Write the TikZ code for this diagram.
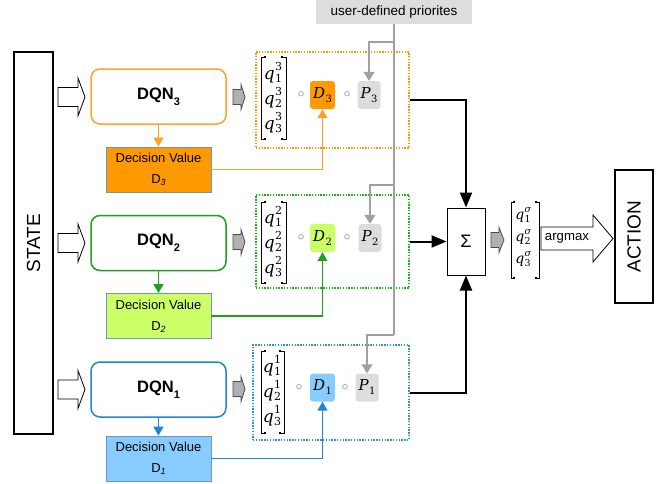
\RequirePackage{fix-cm}
\documentclass[tikz,border=0pt]{standalone}
\usepackage{fontspec}
\setmainfont{Liberation Sans}
\newfontfamily\mvar{DejaVu Serif}
\usetikzlibrary{arrows.meta,calc}
\definecolor{orng}{HTML}{FF9900}
\definecolor{orngline}{HTML}{FFA22A}
\definecolor{grn}{HTML}{1F9F1F}
\definecolor{lgrn}{HTML}{CCFF66}
\definecolor{blu}{HTML}{1F86D6}
\definecolor{lblu}{HTML}{88CCFF}
\definecolor{dvborder}{HTML}{6F93C4}
\definecolor{lgray}{HTML}{DDDDDD}
\definecolor{gline}{HTML}{A0A0A0}
\definecolor{garrow}{HTML}{B0B0B0}
\definecolor{dotgrn}{HTML}{11BB11}
\definecolor{dotblu}{HTML}{2A90E0}
\newcommand\blockarr[7]{\draw[#1] (#2,#5-#6) -- (#3,#5-#6) -- (#3,#5-#7) -- (#4,#5) -- (#3,#5+#7) -- (#3,#5+#6) -- (#2,#5+#6) -- cycle;}
% bracket pair: #1 left x, #2 right x, #3 top, #4 bottom, #5 tick
\newcommand\brackets[5]{%
  \draw[brk] (#1+#5,#3) -- (#1,#3) -- (#1,#4) -- (#1+#5,#4);
  \draw[brk] (#2-#5,#3) -- (#2,#3) -- (#2,#4) -- (#2-#5,#4);
  \fill (#1+#5-1,#3-1) rectangle (#1+#5+1,#3+1);
  \fill (#1+#5-1,#4-1) rectangle (#1+#5+1,#4+1);
  \fill (#2-#5-1,#3-1) rectangle (#2-#5+1,#3+1);
  \fill (#2-#5-1,#4-1) rectangle (#2-#5+1,#4+1);}
% q entries: #1 sub, #2 sup
\newcommand\qe[2]{{\mvar\itshape q}\kern0.3pt\rlap{\raisebox{8.5pt}{\fontsize{11}{11}\selectfont\mvar #2}}\raisebox{-3.5pt}{\fontsize{11}{11}\selectfont\mvar #1}}
\newcommand\qsig[1]{{\mvar\itshape q}\kern0.3pt\rlap{\raisebox{7pt}{\fontsize{9.5}{9.5}\selectfont\mvar\itshape σ}}\raisebox{-3pt}{\fontsize{9.5}{9.5}\selectfont\mvar #1}}
\newcommand\vsub[2]{{\mvar\itshape #1}\kern0.5pt\raisebox{-4pt}{\fontsize{10}{10}\selectfont\mvar #2}}
\begin{document}
\begin{tikzpicture}[x=1pt,y=-1pt,
  dqn/.style={draw, rounded corners=9pt, line width=1.5pt, minimum width=135pt, minimum height=55pt, fill=white, inner sep=0pt, font=\fontsize{16.5}{18}\selectfont\bfseries},
  dv/.style={draw=dvborder, line width=0.8pt, minimum width=105pt, minimum height=45pt, align=center, inner sep=0pt, font=\fontsize{13}{21}\selectfont},
  dnode/.style={rounded corners=3pt, minimum width=25pt, minimum height=28pt, inner sep=0pt, font=\fontsize{15}{15}\selectfont},
  pnode/.style={fill=lgray, rounded corners=3pt, minimum width=23pt, minimum height=28pt, inner sep=0pt, font=\fontsize{15}{15}\selectfont},
  dotbox/.style={line width=1.4pt, dash pattern=on 1.4pt off 1.4pt, inner sep=0pt},
  gl/.style={draw=gline, line width=1.3pt},
  gtip/.style={-{Triangle[length=9pt,width=11pt]}},
  ctip/.style={-{Triangle[length=9pt,width=10pt]}},
  blk/.style={line width=2pt, -{Triangle[length=15pt,width=12pt]}},
  circ/.style={inner sep=0pt, font=\fontsize{13}{13}\selectfont, text=black!60},
  qent/.style={inner sep=0pt, anchor=base, font=\fontsize{17}{17}\selectfont},
  sent/.style={inner sep=0pt, anchor=base, font=\fontsize{14}{14}\selectfont},
  brk/.style={line width=0.9pt},
  tall/.style={draw, line width=1.2pt, fill=white, inner sep=0pt},
  whitearr/.style={draw, line width=0.8pt, fill=white},
  grayarr/.style={draw=black!70, line width=0.8pt, fill=garrow}
]
\useasboundingbox (0,0) rectangle (665,483);

% STATE / ACTION
\node[tall, minimum width=39pt, minimum height=382pt] (state) at (33.5,243) {};
\node[rotate=90, font=\fontsize{19}{19}\selectfont] (statet) at (state.center) {STATE};
\node[tall, minimum width=38pt, minimum height=133pt] (action) at (634,236.5) {};
\node[rotate=90, font=\fontsize{19}{19}\selectfont] (actiont) at (action.center) {ACTION};

% white input arrows
\blockarr{whitearr}{58}{78}{85}{97}{9.5}{19}
\blockarr{whitearr}{58}{78}{85}{243}{9.5}{19}
\blockarr{whitearr}{58}{78}{85}{389.5}{9.5}{19}

% DQN boxes
\node[dqn, draw=orngline] (dqn3) at (158.5,96.5) {DQN\raisebox{-6pt}{\fontsize{11}{11}\selectfont\bfseries 3}};
\node[dqn, draw=grn] (dqn2) at (158.5,243) {DQN\raisebox{-6pt}{\fontsize{11}{11}\selectfont\bfseries 2}};
\node[dqn, draw=blu] (dqn1) at (158.5,389.5) {DQN\raisebox{-6pt}{\fontsize{11}{11}\selectfont\bfseries 1}};

% decision value boxes
\node[dv, fill=orng] (dv3) at (158.5,169.5) {Decision Value\\D\raisebox{-2pt}{\fontsize{9}{9}\selectfont\itshape 3}};
\node[dv, fill=lgrn] (dv2) at (158.5,316) {Decision Value\\D\raisebox{-2pt}{\fontsize{9}{9}\selectfont\itshape 2}};
\node[dv, fill=lblu] (dv1) at (158.5,458.5) {Decision Value\\D\raisebox{-2pt}{\fontsize{9}{9}\selectfont\itshape 1}};

\draw[orngline, line width=1.5pt, ctip] (dqn3.south) -- (dv3.north);
\draw[grn, line width=1.5pt, ctip] (dqn2.south) -- (dv2.north);
\draw[blu, line width=1.5pt, ctip] (dqn1.south) -- (dv1.north);

% gray arrows
\blockarr{grayarr}{233}{241}{245}{97}{7.5}{12.5}
\blockarr{grayarr}{233}{241}{245}{242}{7.5}{12.5}
\blockarr{grayarr}{233}{241}{245}{389}{7.5}{12.5}
\blockarr{grayarr}{491}{499}{504}{240}{7.5}{12.5}

% dotted boxes
\node[dotbox, draw=orng, minimum width=153pt, minimum height=96pt] (box3) at (332.5,100) {};
\node[dotbox, draw=dotgrn, minimum width=153pt, minimum height=93pt] (box2) at (332.5,241.5) {};
\node[dotbox, draw=dotblu, minimum width=156pt, minimum height=95pt] (box1) at (331,392.5) {};

% matrices
\brackets{261}{286}{57}{139}{4}
\node[qent] (q31) at (273,79) {\qe{1}{3}};
\node[qent] (q32) at (273,104) {\qe{2}{3}};
\node[qent] (q33) at (273,129) {\qe{3}{3}};
\brackets{261}{286}{202}{283}{4}
\node[qent] (q21) at (273,223) {\qe{1}{2}};
\node[qent] (q22) at (273,248) {\qe{2}{2}};
\node[qent] (q23) at (273,273) {\qe{3}{2}};
\brackets{261}{284}{351}{433}{4}
\node[qent] (q11) at (272,372) {\qe{1}{1}};
\node[qent] (q12) at (272,397) {\qe{2}{1}};
\node[qent] (q13) at (272,422) {\qe{3}{1}};

% circles
\node[circ] (c31) at (301,95) {$\circ$};
\node[circ] (c32) at (347,95) {$\circ$};
\node[circ] (c21) at (301,238) {$\circ$};
\node[circ] (c22) at (347,238) {$\circ$};
\node[circ] (c11) at (299,387.5) {$\circ$};
\node[circ] (c12) at (345,387.5) {$\circ$};

% D and P nodes
\node[dnode, fill=orng] (d3) at (322.5,95) {\vsub{D}{3}};
\node[dnode, fill=lgrn] (d2) at (322.5,238) {\vsub{D}{2}};
\node[dnode, fill=lblu] (d1) at (322.5,387.5) {\vsub{D}{1}};
\node[pnode] (p3) at (369,95) {\vsub{P}{3}};
\node[pnode] (p2) at (370,238) {\vsub{P}{2}};
\node[pnode] (p1) at (367,387.5) {\vsub{P}{1}};

% decision -> D connectors
\draw[orngline, line width=1.5pt, ctip] (dv3.east) -| (d3.south);
\draw[grn, line width=1.5pt, ctip] (dv2.east) -| (d2.south);
\draw[blu, line width=1.5pt, ctip] (dv1.east) -| (d1.south);

% user-defined priorities
\node[fill=lgray, minimum width=156pt, minimum height=24pt, inner sep=0pt, font=\fontsize{13.5}{14}\selectfont] (udp) at (394,12) {user-defined priorites};
\coordinate (b3) at (394,42);
\coordinate (b2) at (394,185);
\coordinate (b1) at (394,335);
\draw[gl] (udp.south) -- (b1);
\draw[gl, gtip] (b3) -| (p3.north);
\draw[gl, gtip] (b2) -| (p2.north);
\draw[gl, gtip] (b1) -| (p1.north);

% Sigma
\node[draw, line width=1pt, minimum width=38pt, minimum height=67pt, inner sep=0pt, font=\fontsize{18}{18}\selectfont] (sig) at (466,241.5) {Σ};
\draw[blk] (box3.east) -| (sig.north);
\draw[blk] (box2.east) -- (sig.west);
\draw[blk] (box1.east) -| (sig.south);

% q sigma
\brackets{511}{539}{202}{278}{3}
\node[sent] (qs1) at (523,219) {\qsig{1}};
\node[sent] (qs2) at (523,241) {\qsig{2}};
\node[sent] (qs3) at (523,263) {\qsig{3}};

% argmax arrow
\blockarr{whitearr}{541}{593}{613}{238.5}{11.5}{23.5}
\node[font=\fontsize{13.2}{14}\selectfont, inner sep=0pt] (argm) at (567,238.5) {argmax};
\end{tikzpicture}
\end{document}
